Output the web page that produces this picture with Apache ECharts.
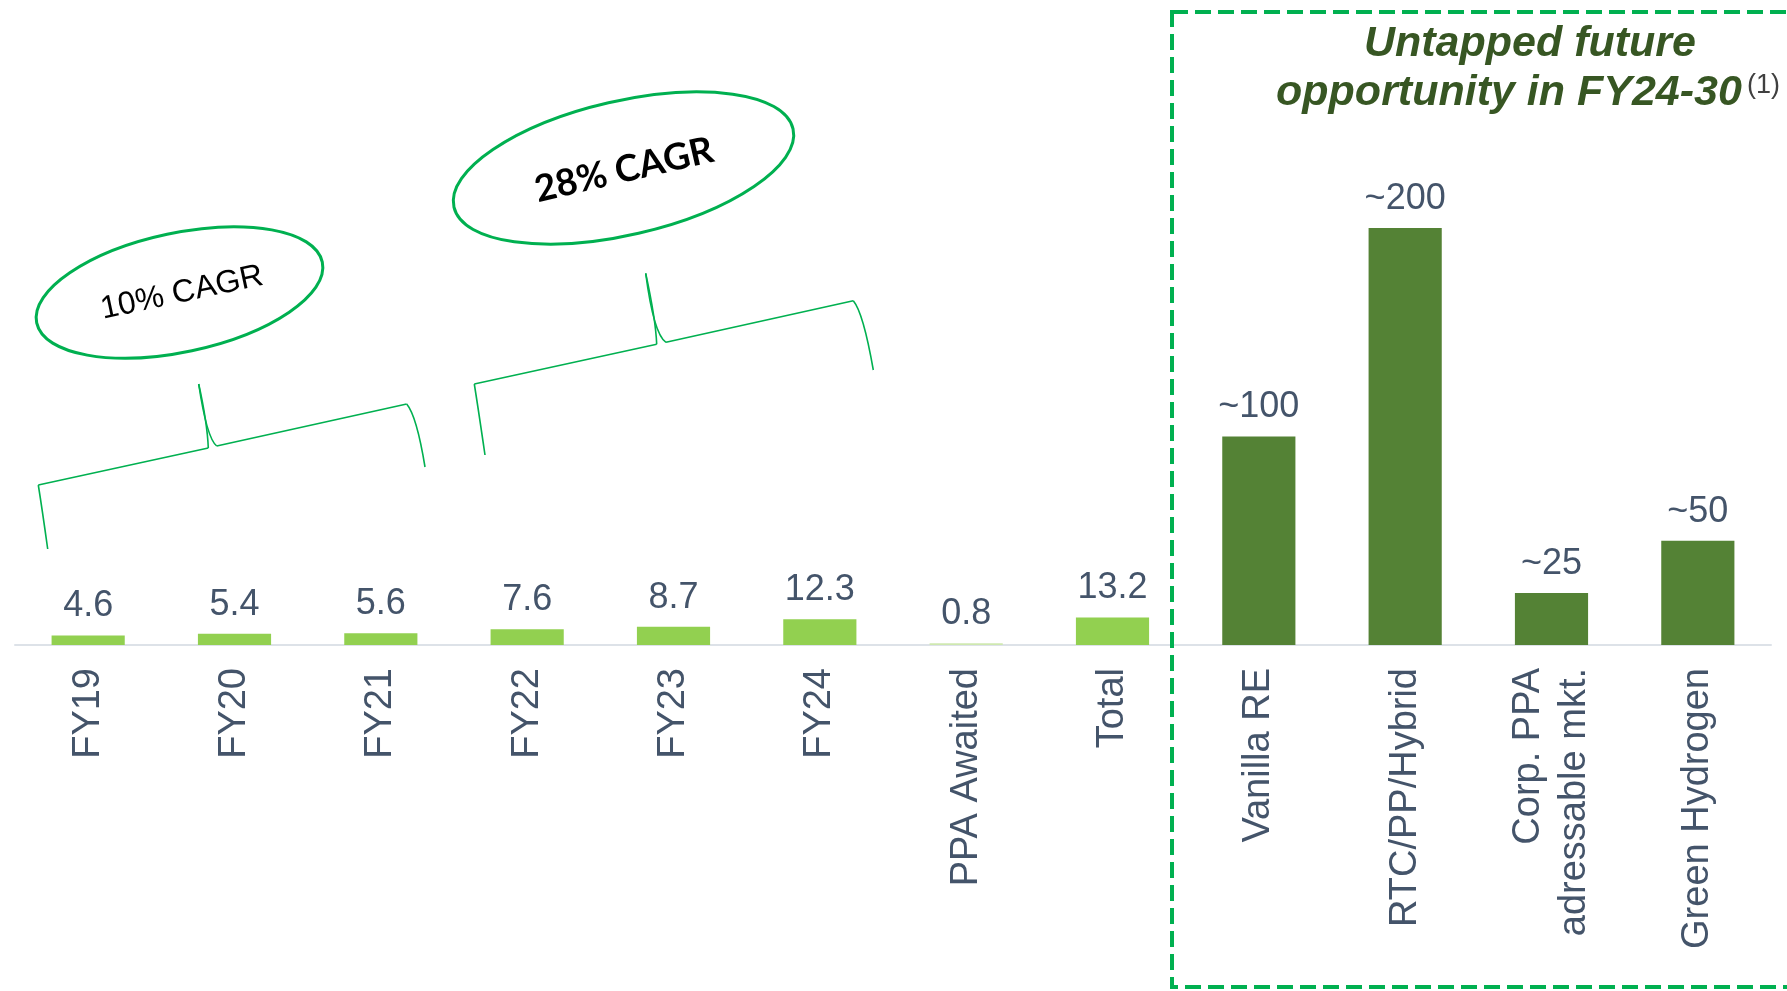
<!DOCTYPE html>
<html>
<head>
<meta charset="utf-8">
<script src="https://cdn.jsdelivr.net/npm/echarts@6/dist/echarts.min.js"></script>
<style>
html,body{margin:0;padding:0;background:#fff;}
#chart{width:1787px;height:991px;}
</style>
</head>
<body>
<div id="chart"></div>
<script>
// ---- data ----
const categories = ['FY19', 'FY20', 'FY21', 'FY22', 'FY23', 'FY24', 'PPA Awaited', 'Total',
  'Vanilla RE', 'RTC/PP/Hybrid', 'Corp. PPA\nadressable mkt.', 'Green Hydrogen'];
const values = [4.6, 5.4, 5.6, 7.6, 8.7, 12.3, 0.8, 13.2, 100, 200, 25, 50];
const valueLabels = ['4.6', '5.4', '5.6', '7.6', '8.7', '12.3', '0.8', '13.2', '~100', '~200', '~25', '~50'];
const groups = ['actual', 'actual', 'actual', 'actual', 'actual', 'actual', 'awaited', 'actual',
  'future', 'future', 'future', 'future'];
const cagrLabels = ['10% CAGR', '28% CAGR'];
const titleLines = ['Untapped future', 'opportunity in FY24-30', '(1)'];

// ---- styles ----
const groupColor = { actual: '#92d050', awaited: '#cfe8b0', future: '#548235' };
const GREEN = '#00b050';
const LABEL = '#44546a';
const FONT = '"Liberation Sans", Arial, sans-serif';

const chart = echarts.init(document.getElementById('chart'), null, { renderer: 'canvas' });

function brace(p) {
  // p: [A,B,C,T,D,E,F]
  const st = { stroke: GREEN, lineWidth: 1.6, fill: null };
  return [
    { type: 'bezierCurve', shape: { x1: p[0][0], y1: p[0][1], x2: p[1][0], y2: p[1][1],
        cpx1: p[1][0] + 4, cpy1: p[1][1] + 25 }, style: st, z: 10 },
    { type: 'line', shape: { x1: p[1][0], y1: p[1][1], x2: p[2][0], y2: p[2][1] }, style: st, z: 10 },
    { type: 'bezierCurve', shape: { x1: p[2][0], y1: p[2][1], x2: p[3][0], y2: p[3][1],
        cpx1: p[2][0] - 1, cpy1: p[2][1] - 25 }, style: st, z: 10 },
    { type: 'bezierCurve', shape: { x1: p[3][0], y1: p[3][1], x2: p[4][0], y2: p[4][1],
        cpx1: p[3][0] + 8, cpy1: p[4][1] - 8 }, style: st, z: 10 },
    { type: 'line', shape: { x1: p[4][0], y1: p[4][1], x2: p[5][0], y2: p[5][1] }, style: st, z: 10 },
    { type: 'bezierCurve', shape: { x1: p[5][0], y1: p[5][1], x2: p[6][0], y2: p[6][1],
        cpx1: p[5][0] + 10, cpy1: p[5][1] + 12 }, style: st, z: 10 }
  ];
}

const deg = Math.PI / 180;

const graphics = [
  // dashed box
  { type: 'rect', shape: { x: 1172, y: 12, width: 700, height: 975 },
    style: { fill: null, stroke: GREEN, lineWidth: 4, lineDash: [16, 7] }, z: 5 },
  // title
  { type: 'text', x: 1530, y: 44, style: { text: titleLines[0], font: 'italic bold 43px ' + FONT,
      fill: '#375623', align: 'center', verticalAlign: 'middle' }, z: 10 },
  { type: 'text', x: 1509, y: 93, style: { text: titleLines[1], font: 'italic bold 43px ' + FONT,
      fill: '#375623', align: 'center', verticalAlign: 'middle' }, z: 10 },
  { type: 'text', x: 1747, y: 86, style: { text: titleLines[2], font: '27px ' + FONT,
      fill: '#404040', align: 'left', verticalAlign: 'middle' }, z: 10 },
  // ellipses
  { type: 'ellipse', x: 179.5, y: 292.5, rotation: 12 * deg, shape: { cx: 0, cy: 0, rx: 146, ry: 59.5 },
    style: { fill: null, stroke: GREEN, lineWidth: 3 }, z: 10 },
  { type: 'text', x: 182, y: 293, rotation: 12 * deg, style: { text: cagrLabels[0], font: '32px ' + FONT,
      fill: '#000', align: 'center', verticalAlign: 'middle' }, z: 10 },
  { type: 'ellipse', x: 623.5, y: 168, rotation: 13 * deg, shape: { cx: 0, cy: 0, rx: 174, ry: 67 },
    style: { fill: null, stroke: GREEN, lineWidth: 3 }, z: 10 },
  { type: 'text', x: 624, y: 170, rotation: 13 * deg, style: { text: cagrLabels[1], font: 'bold 37px Lato, "Open Sans", sans-serif',
      fill: '#000', align: 'center', verticalAlign: 'middle' }, z: 10 }
].concat(
  brace([[47.7, 549], [38.3, 485], [208.3, 448], [198.7, 384], [216.7, 446], [406.7, 404], [425, 467]]),
  brace([[485, 455], [474.3, 384], [656.7, 344.3], [645.7, 273.3], [666, 342.3], [853.3, 300.7], [873.3, 370]])
);

const option = {
  backgroundColor: '#ffffff',
  animation: false,
  grid: { left: 15, right: 16, top: 228, bottom: 346 },
  xAxis: {
    type: 'category',
    data: categories,
    axisLine: { show: true, lineStyle: { color: '#dde2e8', width: 2 } },
    axisTick: { show: false },
    axisLabel: {
      rotate: 90, interval: 0, margin: 23,
      fontSize: 38, fontFamily: FONT, color: LABEL, lineHeight: 46
    }
  },
  yAxis: {
    type: 'value', min: 0, max: 200, show: false,
    splitLine: { show: false }
  },
  series: [{
    type: 'bar',
    barWidth: '50%',
    data: values.map((v, i) => ({
      value: v,
      itemStyle: { color: groupColor[groups[i]] },
      label: { formatter: valueLabels[i] }
    })),
    label: {
      show: true, position: 'top', distance: 11,
      fontSize: 36, fontFamily: FONT, color: LABEL
    }
  }],
  graphic: graphics
};
chart.setOption(option);
</script>
</body>
</html>
